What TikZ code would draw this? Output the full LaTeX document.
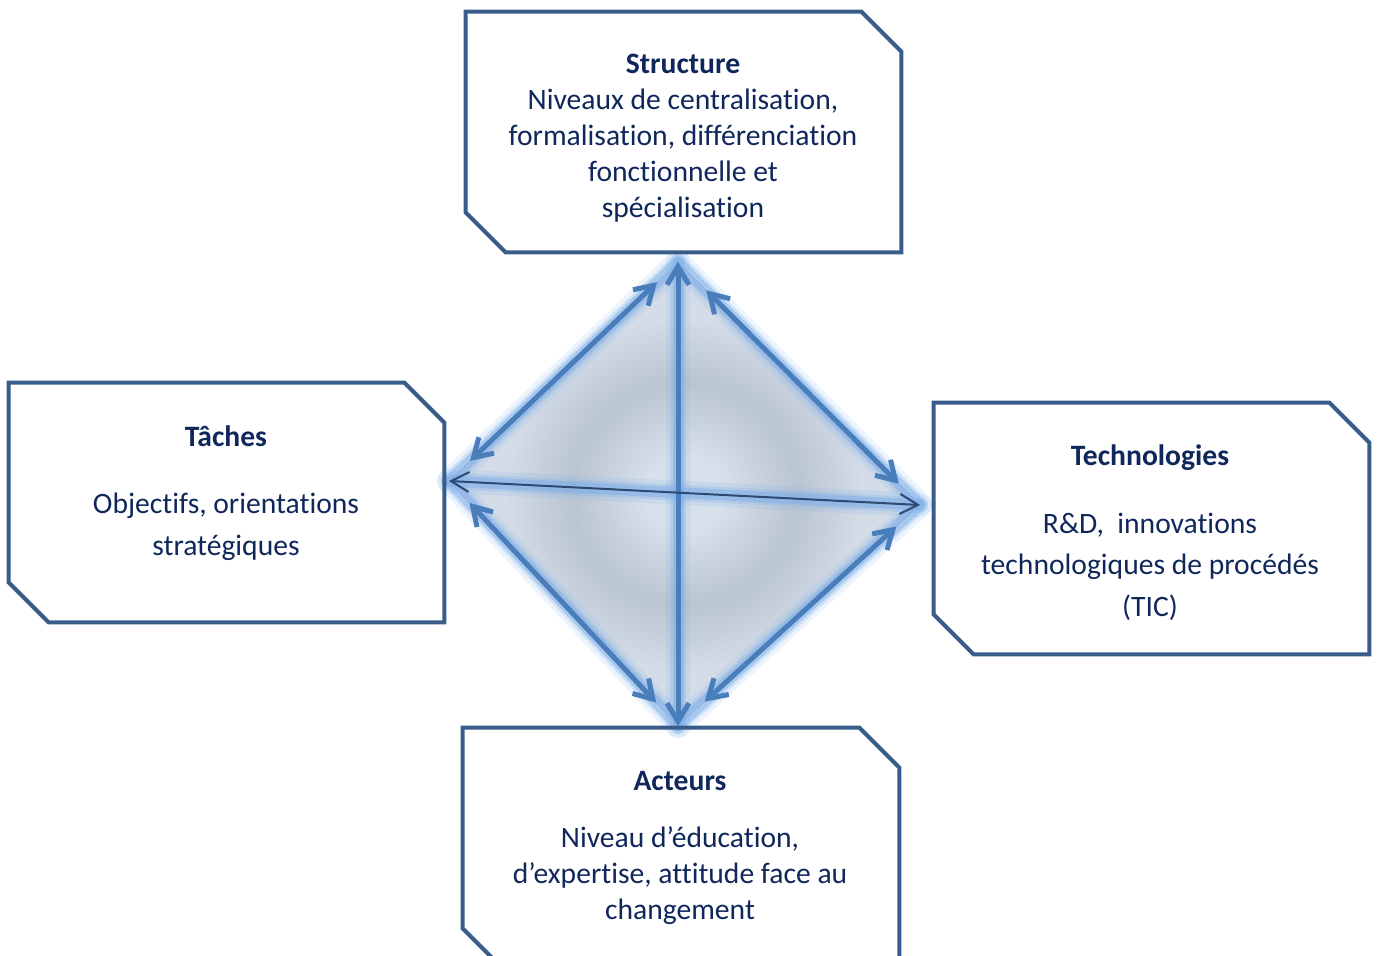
\documentclass[tikz,border=0pt]{standalone}
\usepackage{fontspec}
\setmainfont{Carlito}[Ligatures=NoCommon]
\usepackage{tikz}
\usetikzlibrary{positioning}
\usetikzlibrary{arrows.meta}

\definecolor{boxblue}{HTML}{385D8A}
\definecolor{textnavy}{HTML}{10275C}
\definecolor{arrowblue}{HTML}{4A7EBB}
\definecolor{glowblue}{HTML}{7EAEE8}
\definecolor{hline}{HTML}{2C4A72}
\definecolor{shadeA}{HTML}{D7E0EB}
\definecolor{shadeB}{HTML}{BAC5D2}
\definecolor{shadeC}{HTML}{D3DCE7}

\pgfdeclareradialshading{diamondshade}{\pgfpoint{0bp}{0bp}}{color(0bp)=(shadeA); color(4bp)=(shadeA); color(12bp)=(shadeB); color(19bp)=(shadeC); color(25bp)=(shadeC); color(50bp)=(shadeC)}

% outline with two cut corners, drawn from the anchors of a node
\newcommand{\cutbox}[1]{%
  \draw[cut] (#1.north west) -- ([xshift=-20pt]#1.north east)
    -- ([yshift=-20pt]#1.north east) -- (#1.south east)
    -- ([xshift=20pt]#1.south west) -- ([yshift=20pt]#1.south west) -- cycle;}

\begin{document}
\begin{tikzpicture}
  [
    x=0.5pt, y=-0.5pt,
    box/.style={minimum width=217.5pt, minimum height=120pt, inner sep=0pt},
    cut/.style={draw=boxblue, line width=2pt, line join=miter},
    boxtext/.style={align=center, text=textnavy, inner sep=0pt},
    arr/.style={draw=arrowblue, line width=2.5pt,
      {Straight Barb[length=9pt,width=11pt]}-{Straight Barb[length=9pt,width=11pt]}},
    thinarr/.style={draw=hline, line width=1pt,
      {Straight Barb[length=9pt,width=10pt]}-{Straight Barb[length=9pt,width=10pt]}},
    glow/.style={draw=glowblue, line width=#1, line cap=round, line join=round}
  ]
  \useasboundingbox (0,0) rectangle (1378,956);

  % corners of the diamond
  \coordinate (dT) at (678,262);
  \coordinate (dR) at (920,505);
  \coordinate (dB) at (678,726);
  \coordinate (dL) at (449,481);

  \fill[shading=diamondshade] (dT) -- (dR) -- (dB) -- (dL) -- cycle;

  \foreach \w/\o in {12pt/0.15, 8pt/0.25, 5.5pt/0.5}{
    \draw[glow=\w, opacity=\o] (dT) -- (dR) -- (dB) -- (dL) -- cycle;
    \draw[glow=\w, opacity=\o] (dT) -- (dB);
    \draw[glow=\w, opacity=\o] (dL) -- (dR);
  }

  \draw [arr, shorten <=14.5pt, shorten >=14.5pt] (dL) -- (dT);
  \draw [arr, shorten <=20pt,   shorten >=15pt]   (dT) -- (dR);
  \draw [arr, shorten <=15pt,   shorten >=16pt]   (dL) -- (dB);
  \draw [arr, shorten <=18pt,   shorten >=16pt]   (dB) -- (dR);
  \draw [arr] (dT) -- (dB);
  \draw [thinarr] (dL) -- (dR);

  \node (struct) at (683.5,132)   [box] {};
  \node (tasks)  at (226.5,502.5) [box, minimum height=119.5pt] {};
  \node (techno) at (1151.5,528.5) [box, minimum height=125.5pt] {};
  \node (actors) at (681,848)     [box, minimum width=218pt] {};
  \cutbox{struct}
  \cutbox{tasks}
  \cutbox{techno}
  \cutbox{actors}

  \node (structText) at (683,138.5) [boxtext, font=\fontsize{14.8pt}{18pt}\selectfont]
    {\textbf{Structure}\\Niveaux de centralisation,\\formalisation, différenciation\\fonctionnelle et\\spécialisation};
  \node (tasksText) at (226,493) [boxtext, font=\fontsize{14.8pt}{21pt}\selectfont]
    {\textbf{Tâches}\\[12.5pt]Objectifs, orientations\\stratégiques};
  \node (technoText) at (1150,532.5) [boxtext, font=\fontsize{14.8pt}{20.75pt}\selectfont]
    {\textbf{Technologies}\\[13pt]R\&D,\ \ innovations\\technologiques de procédés\\(TIC)};
  \node (actorsText) at (680,847.5) [boxtext, font=\fontsize{14.8pt}{18pt}\selectfont]
    {\textbf{Acteurs}\\[10.5pt]Niveau d’éducation,\\d’expertise, attitude face au\\changement};
\end{tikzpicture}
\end{document}
